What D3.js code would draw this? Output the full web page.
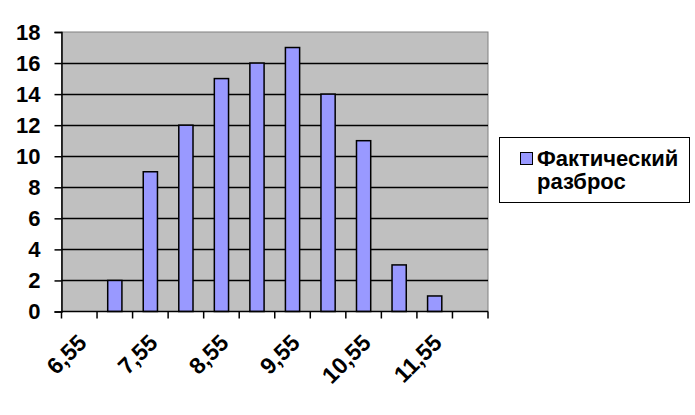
<!DOCTYPE html>
<html>
<head>
<meta charset="utf-8">
<script src="https://cdn.jsdelivr.net/npm/d3@7"></script>
<style>
    body { margin: 0; background: #fff; }
    svg { display: block; font-family: Arial, "Liberation Sans", sans-serif; }
</style>
</head>
<body>
<div id="chart-area"></div>
<script>
const categories = ["6,55", "7,05", "7,55", "8,05", "8,55", "9,05", "9,55", "10,05", "10,55", "11,05", "11,55", "12,05"];
const values = [0, 2, 9, 12, 15, 16, 17, 14, 11, 3, 1, 0];
const yTicks = [0, 2, 4, 6, 8, 10, 12, 14, 16, 18];
const shownLabels = ["6,55", "7,55", "8,55", "9,55", "10,55", "11,55"];
const seriesName = ["Фактический", "разброс"];

const WIDTH = 695,
    HEIGHT = 415,
    LEFT = 61.5,
    RIGHT = 488,
    TOP = 32,
    BOTTOM = 311.5,
    COLOR_PLOT = '#c0c0c0',
    COLOR_BAR = '#9999ff',
    FONT_SIZE = 22;

const svg = d3.select("#chart-area")
    .append("svg")
    .attr("width", WIDTH)
    .attr("height", HEIGHT);

const x = d3.scaleBand()
    .domain(categories)
    .range([LEFT, RIGHT])
    .paddingInner(0.6)
    .paddingOuter(0.3);

const xCat = d3.scaleBand()
    .domain(categories)
    .range([LEFT, RIGHT]);

const y = d3.scaleLinear()
    .domain([0, 18])
    .range([BOTTOM, TOP]);

// plot background
svg.append("rect")
    .attr("x", LEFT)
    .attr("y", TOP)
    .attr("width", RIGHT - LEFT)
    .attr("height", BOTTOM - TOP)
    .attr("fill", COLOR_PLOT)
    .attr("stroke", "#808080")
    .attr("stroke-width", 1);

// gridlines
svg.append("g")
    .selectAll("line")
    .data(yTicks.filter(d => d > 0 && d < 18))
    .join("line")
    .attr("x1", LEFT)
    .attr("x2", RIGHT)
    .attr("y1", d => Math.round(y(d)) + 0.5)
    .attr("y2", d => Math.round(y(d)) + 0.5)
    .attr("stroke", "#000")
    .attr("stroke-width", 1.5);

// bars
svg.append("g")
    .selectAll("rect")
    .data(values.map((v, i) => ({cat: categories[i], v})).filter(d => d.v > 0))
    .join("rect")
    .attr("x", d => x(d.cat))
    .attr("y", d => y(d.v))
    .attr("width", x.bandwidth())
    .attr("height", d => BOTTOM - y(d.v))
    .attr("fill", COLOR_BAR)
    .attr("stroke", "#000")
    .attr("stroke-width", 1.5);

// y axis
const yAxis = svg.append("g")
    .attr("transform", `translate(${LEFT},0)`)
    .call(d3.axisLeft(y).tickValues(yTicks).tickSize(7).tickPadding(14).tickFormat(d3.format("d")));
yAxis.select(".domain").attr("stroke", "#000").attr("stroke-width", 1.5);
yAxis.selectAll(".tick line").attr("stroke", "#000").attr("stroke-width", 1.5);
yAxis.selectAll("text")
    .attr("font-size", FONT_SIZE)
    .attr("font-weight", "bold")
    .attr("font-family", "Arial, 'Liberation Sans', sans-serif")
    .attr("fill", "#000");

// x axis: ticks at category boundaries
const xAxis = svg.append("g");
xAxis.append("line")
    .attr("x1", LEFT)
    .attr("x2", RIGHT)
    .attr("y1", BOTTOM)
    .attr("y2", BOTTOM)
    .attr("stroke", "#000")
    .attr("stroke-width", 1.5);
xAxis.selectAll(".tk")
    .data(categories.concat(["end"]))
    .join("line")
    .attr("class", "tk")
    .attr("x1", (d, i) => LEFT + i * xCat.step())
    .attr("x2", (d, i) => LEFT + i * xCat.step())
    .attr("y1", BOTTOM)
    .attr("y2", BOTTOM + 7)
    .attr("stroke", "#000")
    .attr("stroke-width", 1.5);

xAxis.selectAll("text")
    .data(shownLabels)
    .join("text")
    .attr("transform", d => `translate(${xCat(d) + xCat.bandwidth() / 2 + 3},${BOTTOM + 27}) rotate(-45)`)
    .attr("text-anchor", "end")
    .attr("dy", "0.35em")
    .attr("font-size", 23)
    .attr("font-weight", "bold")
    .text(d => d);

// legend
const legend = svg.append("g");
legend.append("rect")
    .attr("x", 499.5)
    .attr("y", 137.5)
    .attr("width", 190)
    .attr("height", 65)
    .attr("fill", "#fff")
    .attr("stroke", "#000")
    .attr("stroke-width", 1);
legend.append("rect")
    .attr("x", 520.5)
    .attr("y", 152.5)
    .attr("width", 12)
    .attr("height", 12)
    .attr("fill", COLOR_BAR)
    .attr("stroke", "#000")
    .attr("stroke-width", 1);
legend.selectAll(".lt")
    .data(seriesName)
    .join("text")
    .attr("class", "lt")
    .attr("x", 537)
    .attr("y", (d, i) => 166 + i * 23)
    .attr("font-size", FONT_SIZE)
    .attr("font-weight", "bold")
    .text(d => d);
</script>
</body>
</html>
